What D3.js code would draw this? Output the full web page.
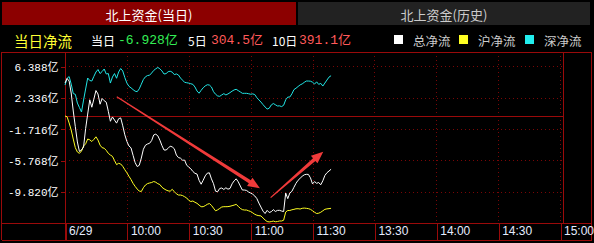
<!DOCTYPE html>
<html>
<head>
<meta charset="utf-8">
<script src="https://cdn.jsdelivr.net/npm/d3@7"></script>
<style>
  body { margin: 0; background: #000; }
  svg { display: block; }
</style>
</head>
<body>
<script>
// TAB AND HEADER TEXTS
const tabLabels = ["北上资金(当日)", "北上资金(历史)"];
const summaryLabels = ["当日", "5日", "10日"];
const summaryValues = [-6.928, 304.5, 391.1];
const legendLabels = ["总净流", "沪净流", "深净流"];

// X TICKS: MINUTES FROM 9:30 (11:30 AND 13:00 SHARE ONE SLOT)
const xTickMinutes = [0, 30, 60, 90, 120, 150, 180, 210, 240];
const xTickLabels = ["6/29", "10:00", "10:30", "11:00", "11:30", "13:30", "14:00", "14:30", "15:00"];

// Y TICKS (亿)
const yTicks = [6.388, 2.336, -1.716, -5.768, -9.820];

// ONE VALUE PER MINUTE FROM 9:30 (亿)
const totalFlow = [
  4.23, 4.82, 4.49, 2.94, 0.61, -1.42, -3.40, -4.63, -4.44, -4.05,
  -1.66, 0.22, 2.06, 1.10, 2.16, 3.26, 2.81, 1.49, 2.23, 1.94,
  1.75, 0.57, -0.72, -0.16, -0.56, -0.96, -0.39, -0.28, -1.31, -2.47,
  -3.33, -3.92, -4.16, -5.13, -6.07, -6.58, -6.42, -5.48, -4.34, -3.82,
  -3.66, -3.57, -3.22, -2.49, -2.39, -2.60, -3.17, -3.87, -4.44, -4.44,
  -4.22, -3.94, -4.04, -4.28, -5.09, -5.42, -5.50, -5.76, -5.75, -6.42,
  -6.64, -6.87, -7.22, -7.46, -7.55, -8.36, -8.87, -8.35, -7.78, -7.44,
  -7.39, -8.18, -8.80, -9.77, -9.84, -9.42, -9.36, -9.55, -9.33, -9.51,
  -9.42, -8.82, -8.43, -8.17, -8.56, -9.10, -9.62, -9.62, -9.67, -9.88,
  -10.01, -10.16, -10.39, -10.72, -11.31, -11.83, -12.35, -12.66, -12.25, -12.53,
  -12.43, -12.16, -12.40, -12.26, -12.25, -12.34, -12.41, -10.01, -10.74, -10.01,
  -9.79, -9.26, -8.75, -8.36, -8.10, -7.84, -7.65, -7.59, -7.60, -8.04,
  -8.83, -8.53, -8.75, -8.65, -8.94, -8.43, -7.73, -7.38, -7.16, -6.93
];
const shanghaiFlow = [
  -0.04, -0.13, -0.94, -1.85, -3.02, -4.14, -4.70, -4.87, -4.57, -3.92,
  -3.64, -3.02, -3.12, -3.34, -3.07, -2.73, -3.15, -3.81, -4.14, -4.21,
  -4.49, -4.87, -5.09, -5.26, -5.80, -6.33, -6.16, -6.25, -6.56, -6.99,
  -7.39, -7.84, -8.26, -8.76, -9.15, -9.49, -9.76, -9.81, -9.32, -8.97,
  -8.79, -8.71, -8.65, -8.52, -8.61, -8.80, -8.91, -9.26, -9.46, -9.62,
  -9.73, -9.77, -9.53, -9.84, -10.11, -10.27, -10.27, -10.34, -10.49, -10.65,
  -10.96, -11.11, -11.04, -11.21, -11.34, -11.57, -11.78, -11.78, -11.64, -11.47,
  -11.37, -11.61, -11.97, -12.31, -12.19, -12.01, -11.82, -11.78, -11.78, -11.77,
  -11.72, -11.65, -11.57, -11.48, -11.73, -12.00, -12.16, -12.21, -12.21, -12.31,
  -12.40, -12.57, -12.76, -12.88, -12.94, -12.97, -13.24, -13.50, -13.70, -13.75,
  -13.71, -13.64, -13.73, -13.70, -13.63, -13.63, -13.53, -12.47, -12.27, -12.27,
  -12.18, -12.12, -12.05, -12.04, -12.08, -11.99, -11.96, -11.99, -12.03, -12.12,
  -12.30, -12.50, -12.66, -12.62, -12.50, -12.31, -12.12, -12.06, -12.03, -11.99
];
const shenzhenFlow = [
  3.97, 4.84, 5.07, 4.10, 2.87, 2.77, 1.64, 1.06, 0.48, 2.03,
  3.46, 4.88, 4.56, 4.49, 5.10, 5.66, 5.98, 5.46, 5.72, 6.05,
  5.40, 5.46, 4.23, 5.01, 5.46, 4.85, 5.66, 6.11, 5.79, 4.94,
  4.23, 3.81, 3.61, 3.38, 3.18, 3.11, 3.48, 4.08, 4.69, 5.04,
  5.20, 5.24, 5.53, 5.86, 6.07, 6.25, 6.07, 5.80, 5.40, 5.45,
  5.70, 5.76, 5.64, 5.32, 5.41, 5.27, 4.88, 4.60, 4.32, 4.27,
  4.22, 4.14, 4.06, 3.72, 3.20, 2.91, 3.29, 3.62, 3.86, 4.01,
  3.97, 3.72, 3.11, 2.78, 2.56, 2.51, 2.69, 2.86, 2.69, 2.82,
  2.99, 3.18, 3.34, 3.42, 3.25, 3.08, 2.90, 2.90, 2.90, 2.85,
  2.78, 2.83, 2.74, 2.34, 2.05, 1.77, 1.44, 1.13, 0.87, 0.96,
  1.39, 1.58, 1.42, 1.26, 1.28, 1.18, 1.35, 2.06, 2.41, 2.42,
  2.83, 3.38, 3.56, 3.78, 3.99, 4.12, 4.32, 4.49, 4.49, 4.47,
  4.34, 4.10, 4.39, 4.06, 4.19, 3.84, 4.23, 4.62, 5.00, 5.18
];

// ANNOTATION ARROWS [minute, value] -> [minute, value]
const arrowMarks = [
  [[25.1, 2.46], [94.5, -9.40]],
  [[99.7, -10.61], [125.2, -4.66]]
];

// DIMENSIONS
var width = 594;
var height = 243;
var plot = {left: 65, right: 563, top: 52, bottom: 223, axisBottom: 240};
var frameColor = "#9a0a0a";
var gridColor = "#7a0606";

// CREATE SVG CANVAS
var svg = d3.select("body")
    .append("svg")
    .attr("width", width)
    .attr("height", height)
    .style("background", "#000");

// TABS
var tabs = [{x: 2, w: 294, fill: "#8c0000", color: "#ffffff"}, {x: 298, w: 292, fill: "#222222", color: "#cccccc"}];
tabs.forEach((t, i) => {
    svg.append("rect").attr("x", t.x).attr("y", 2).attr("width", t.w).attr("height", 23).attr("fill", t.fill);
    svg.append("text")
        .attr("x", t.x + t.w / 2).attr("y", 14)
        .attr("text-anchor", "middle").attr("dominant-baseline", "central")
        .attr("fill", t.color)
        .style("font", "13px 'Noto Sans CJK SC'")
        .text(tabLabels[i]);
});

// HEADER ROW
var head = svg.append("g").style("font-family", "'Noto Sans CJK SC'");
head.append("text").attr("x", 14).attr("y", 40).attr("dominant-baseline", "central")
    .attr("fill", "#ffff33").style("font-size", "14.5px").text("当日净流");
var sumX = [[91, 118], [188, 211], [272, 299]];
var sumColors = ["#33ee55", "#ff5a5a", "#ff5a5a"];
summaryLabels.forEach((lab, i) => {
    head.append("text").attr("x", sumX[i][0]).attr("y", 40).attr("dominant-baseline", "central")
        .attr("fill", "#ffffff").style("font-size", "12px").text(lab);
    var v = summaryValues[i];
    head.append("text").attr("x", sumX[i][1]).attr("y", 40).attr("dominant-baseline", "central")
        .attr("fill", sumColors[i])
        .style("font", "13px 'Liberation Mono', 'Noto Sans CJK SC'")
        .text((i === 0 ? v.toFixed(3) : v.toFixed(1)) + "亿");
});

// LEGEND
var legendColors = ["#ffffff", "#ffff22", "#22eeee"];
var legendX = [394, 459, 525];
legendLabels.forEach((lab, i) => {
    head.append("rect").attr("x", legendX[i]).attr("y", 35).attr("width", 9).attr("height", 9).attr("fill", legendColors[i]);
    head.append("text").attr("x", legendX[i] + 19).attr("y", 40).attr("dominant-baseline", "central")
        .attr("fill", "#cccccc").style("font-size", "12.5px").text(lab);
});

// SCALES
const x = d3.scaleLinear().domain([0, 240]).range([65, 560]);
const y = d3.scaleLinear().domain([-13.89, 8.25]).range([plot.bottom, plot.top]);

// DOTTED GRID
var grid = svg.append("g").attr("stroke", gridColor).attr("stroke-dasharray", "1,3").attr("shape-rendering", "crispEdges");
yTicks.forEach(t => {
    grid.append("line").attr("x1", plot.left).attr("x2", plot.right)
        .attr("y1", Math.round(y(t)) + 0.5).attr("y2", Math.round(y(t)) + 0.5);
});
xTickMinutes.slice(1).forEach(m => {
    grid.append("line").attr("y1", plot.top).attr("y2", plot.bottom)
        .attr("x1", Math.round(x(m)) + 0.5).attr("x2", Math.round(x(m)) + 0.5);
});

// ZERO LINE
svg.append("line").attr("x1", plot.left).attr("x2", plot.right)
    .attr("y1", Math.round(y(0)) + 0.5).attr("y2", Math.round(y(0)) + 0.5)
    .attr("stroke", frameColor).attr("shape-rendering", "crispEdges");

// FRAME LINES
var frame = svg.append("g").attr("stroke", frameColor).attr("shape-rendering", "crispEdges");
[[1.5, plot.top + 0.5, 591.5, plot.top + 0.5],
 [1.5, plot.bottom + 0.5, 591.5, plot.bottom + 0.5],
 [1.5, plot.axisBottom + 0.5, 591.5, plot.axisBottom + 0.5],
 [1.5, plot.top, 1.5, plot.axisBottom],
 [591.5, plot.top, 591.5, plot.axisBottom],
 [plot.right + 0.5, plot.top, plot.right + 0.5, plot.bottom]].forEach(l => {
    frame.append("line").attr("x1", l[0]).attr("y1", l[1]).attr("x2", l[2]).attr("y2", l[3]);
});

// Y AXIS
var yAxis = d3.axisLeft(y)
    .tickValues(yTicks)
    .tickSize(5)
    .tickPadding(2)
    .tickFormat(d => d.toFixed(3) + "亿");
var yg = svg.append("g")
    .attr("transform", `translate(${plot.left + 0.5}, 0.5)`)
    .call(yAxis);
yg.select(".domain").attr("stroke", frameColor).attr("d", `M0,${plot.top}V${plot.axisBottom}`);
yg.selectAll(".tick line").attr("stroke", frameColor).attr("shape-rendering", "crispEdges");
yg.selectAll(".tick text")
    .attr("fill", "#ffffff")
    .style("font", "11px 'Liberation Mono', 'Noto Sans CJK SC'");

// X AXIS
var xAxis = d3.axisBottom(x)
    .tickValues(xTickMinutes)
    .tickSize(plot.axisBottom - plot.bottom)
    .tickFormat((d, i) => xTickLabels[i]);
var xg = svg.append("g")
    .attr("transform", `translate(0.5, ${plot.bottom + 0.5})`)
    .call(xAxis);
xg.select(".domain").remove();
xg.selectAll(".tick line").attr("stroke", frameColor).attr("shape-rendering", "crispEdges");
xg.selectAll(".tick text")
    .attr("fill", "#e4ecff")
    .attr("text-anchor", "start")
    .attr("x", 3)
    .attr("y", 3)
    .style("font", "12px 'Liberation Sans'");

// LINES
var line = d3.line().x((d, i) => x(i)).y(d => y(d));
[[shenzhenFlow, "#22e5e5"], [shanghaiFlow, "#ffff22"], [totalFlow, "#ffffff"]].forEach(s => {
    svg.append("path")
        .datum(s[0])
        .attr("fill", "none")
        .attr("stroke", s[1])
        .attr("stroke-width", 1)
        .attr("d", line);
});

// ARROWS
arrowMarks.forEach(a => {
    var p0 = [x(a[0][0]), y(a[0][1])];
    var p1 = [x(a[1][0]), y(a[1][1])];
    var dx = p1[0] - p0[0], dy = p1[1] - p0[1];
    var len = Math.sqrt(dx * dx + dy * dy);
    var u = [dx / len, dy / len], n = [-u[1], u[0]];
    var headLen = 12, headW = 5, w0 = 0.6, w1 = 1.8;
    var pb = [p1[0] - u[0] * headLen, p1[1] - u[1] * headLen];
    var pts = [
        [p0[0] + n[0] * w0, p0[1] + n[1] * w0],
        [pb[0] + n[0] * w1, pb[1] + n[1] * w1],
        [pb[0] + n[0] * headW, pb[1] + n[1] * headW],
        p1,
        [pb[0] - n[0] * headW, pb[1] - n[1] * headW],
        [pb[0] - n[0] * w1, pb[1] - n[1] * w1],
        [p0[0] - n[0] * w0, p0[1] - n[1] * w0]
    ];
    svg.append("polygon")
        .attr("points", pts.map(p => p.join(",")).join(" "))
        .attr("fill", "#f03a3a");
});
</script>
</body>
</html>
